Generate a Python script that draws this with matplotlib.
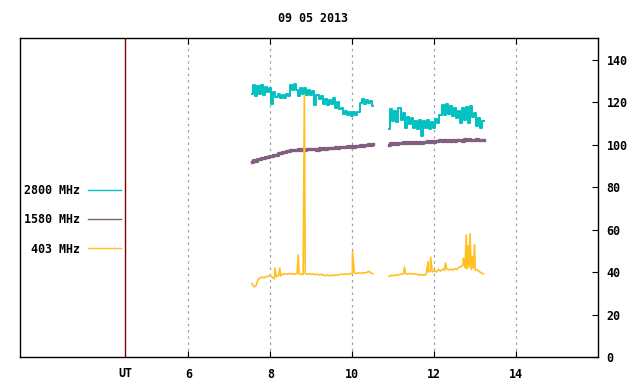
import numpy as np
import matplotlib
matplotlib.use('Agg')
import matplotlib.pyplot as plt

plt.rcParams['font.family'] = ['DejaVu Sans Mono']
plt.rcParams['font.weight'] = 'bold'
plt.rcParams['font.size'] = 8.4

title = '09 05 2013'
labels = ['2800 MHz', '1580 MHz', ' 403 MHz']
colors = ['#00c0c0', '#806080', '#ffc020']

# time grid (UT hours) of the two observing runs
t1 = np.round(np.arange(7.55, 10.501, 0.05), 3)
t2 = np.round(np.arange(10.90, 13.201, 0.05), 3)

# 2800 MHz
f2800_a = [124, 128, 123, 127.5, 124, 128, 123.5, 127, 124.5, 126.5,
           119, 124.5, 122.5, 124, 122, 123.5, 122, 124, 123, 128,
           125.5, 128.5, 125.5, 123, 126.5, 124, 126.5, 123.5, 125.5, 123.5,
           125, 118.5, 123.5, 121.5, 123, 119, 121.5, 118.5, 121, 119,
           122, 117, 120, 116.5, 117, 114.5, 116, 114, 115.5, 113.5,
           115.5, 114, 115.5, 119.5, 121.5, 119, 121, 119.5, 120.5, 118]
f2800_b = [107.5, 116.5, 111, 116, 110.5, 117, 111.5, 115, 108, 113,
           109.5, 112.5, 108, 111, 107.5, 111.5, 104, 111, 108, 111.5,
           107.5, 110.5, 108, 112, 110, 114, 118.5, 114, 119, 114.5,
           118, 113.5, 117, 112.5, 116, 110, 117, 111.5, 117.5, 110,
           118, 113, 115, 108.5, 112.5, 108, 111]

# 1580 MHz
f1580_a = [91.8, 92.5, 92.2, 93.0, 93.2, 93.8, 93.5, 94.2, 94.0, 94.8,
           94.6, 95.3, 95.1, 95.9, 96.0, 96.6, 96.4, 97.0, 96.9, 97.4,
           97.2, 97.6, 97.4, 97.8, 97.5, 97.9, 97.6, 97.9, 97.7, 98.0,
           97.7, 98.1, 97.5, 98.2, 97.9, 98.4, 98.1, 98.5, 98.3, 98.6,
           98.4, 98.8, 98.5, 98.8, 98.7, 99.0, 98.8, 99.1, 98.9, 99.2,
           99.0, 99.5, 99.3, 99.7, 99.5, 100.0, 99.6, 100.2, 99.9, 100.3]
f1580_b = [100.0, 100.7, 100.3, 100.8, 100.4, 100.9, 100.5, 101.0, 100.6, 101.0,
           100.7, 101.1, 100.8, 101.0, 100.9, 101.3, 100.8, 101.4, 101.1, 101.6,
           101.3, 101.7, 101.4, 101.8, 101.5, 101.9, 101.6, 101.9, 101.7, 102.0,
           101.8, 102.2, 101.7, 102.3, 101.9, 102.2, 101.8, 102.4, 102.0, 102.5,
           102.0, 102.3, 101.9, 102.4, 102.0, 102.3, 102.1]

# 403 MHz (base level + short bursts)
f403_a = [34.5, 33.0, 33.5, 36.5, 37.2, 37.6, 37.3, 37.8, 38.0, 38.3,
          37.5, 36.8, 37.8, 38.4, 38.2, 39.0, 39.2, 38.9, 39.3, 39.0,
          39.2, 38.9, 39.3, 39.0, 39.2, 38.8, 39.3, 39.0, 39.2, 38.9,
          39.1, 38.7, 39.0, 38.6, 38.9, 38.5, 38.3, 38.6, 38.2, 38.5,
          38.3, 38.7, 38.5, 38.9, 39.0, 38.8, 39.2, 38.9, 39.3, 39.2,
          39.5, 39.3, 39.6, 39.4, 39.7, 39.5, 39.8, 40.3, 39.6, 39.2]
f403_b = [38.0, 38.4, 38.3, 38.6, 38.5, 38.8, 39.0, 39.1, 39.3, 39.0,
          39.3, 39.1, 39.2, 39.0, 38.8, 38.5, 38.8, 38.4, 39.0, 40.0,
          40.3, 40.0, 40.6, 40.0, 41.2, 40.4, 41.3, 40.8, 41.5, 41.0,
          41.3, 40.9, 41.6, 41.2, 42.2, 42.6, 43.2, 42.0, 41.5, 42.3,
          41.2, 41.8, 40.8, 41.0, 40.2, 39.4, 39.2]
burst_t_a = [8.11, 8.23, 8.68, 8.83, 10.005]
burst_v_a = [41.8, 41.8, 48.0, 123.5, 49.6]
burst_t_b = [11.27, 11.85, 11.91, 12.27, 12.71, 12.78, 12.82, 12.87, 12.93, 12.98]
burst_v_b = [42.3, 44.9, 47.0, 44.2, 46.5, 57.5, 52.3, 58.0, 47.3, 52.8]

xticks = [6, 8, 10, 12, 14]
yticks = [0, 20, 40, 60, 80, 100, 120, 140]
ut_pos = 4.463


def merge(t, v, bt, bv):
    # put burst samples into the base series in time order
    tt = np.concatenate([t, bt])
    vv = np.concatenate([v, bv])
    order = np.argsort(tt)
    return tt[order], vv[order]


fig = plt.figure(figsize=(6.4, 3.84), dpi=100)
ax = fig.add_axes([20.3 / 640, 27 / 384, 578 / 640, 318.7 / 384])

ax.plot(t1, f2800_a, color=colors[0], lw=1.4, ds='steps-mid', label=labels[0])
ax.plot(t2, f2800_b, color=colors[0], lw=1.4, ds='steps-mid')
ax.plot(t1, f1580_a, color=colors[1], lw=2.4, ds='steps-mid', label=labels[1])
ax.plot(t2, f1580_b, color=colors[1], lw=2.4, ds='steps-mid')
ta, va = merge(t1, f403_a, burst_t_a, burst_v_a)
tb, vb = merge(t2, f403_b, burst_t_b, burst_v_b)
ax.plot(ta, va, color=colors[2], lw=1.2, label=labels[2])
ax.plot(tb, vb, color=colors[2], lw=1.2)

ax.set_xlim(1.9, 16.0)
ax.set_ylim(0, 150)

# vertical dotted grid at the hour ticks
for x in xticks:
    ax.axvline(x, color='#a0a0a0', lw=0.9, ls=(0, (2, 3)), zorder=0)
ax.axvline(ut_pos, color='#7f0000', lw=1.0)

ax.set_xticks(xticks)
ax.set_xticklabels([str(x) for x in xticks])
ax.set_yticks(yticks)
ax.yaxis.tick_right()
ax.tick_params(axis='x', direction='in', top=True, bottom=True, length=4, pad=8)
ax.tick_params(axis='y', direction='in', left=False, right=True, length=4,
               pad=6, labelright=True, labelleft=False)
for s in ax.spines.values():
    s.set_linewidth(1.0)

ax.text(ut_pos, -4.5, 'UT', ha='center', va='top', transform=ax.transData)

fig.text(313 / 640, 1 - 18 / 384, title, ha='center', va='center')

leg = ax.legend(loc='center right', bbox_to_anchor=(4.36, 64.6),
                bbox_transform=ax.transData, frameon=False, markerfirst=False,
                handlelength=2.8, handletextpad=0.7, labelspacing=1.4,
                borderpad=0, borderaxespad=0)
for h in leg.get_lines():
    h.set_linewidth(1.0)
    h.set_drawstyle('default')

fig.savefig('out.png', dpi=100)
